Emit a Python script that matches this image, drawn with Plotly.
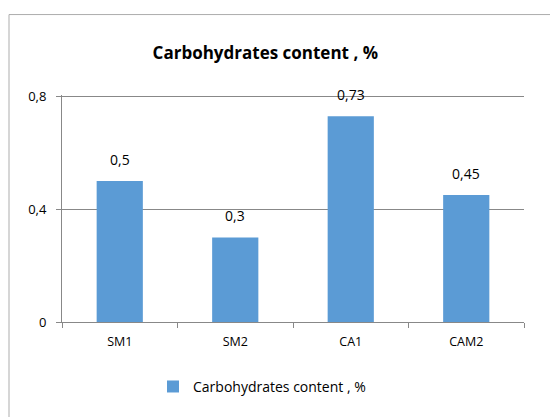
import plotly.graph_objects as go

categories = ["SM1", "SM2", "CA1", "CAM2"]
values = [0.5, 0.3, 0.73, 0.45]
series_name = "Carbohydrates content , %"
title_text = "Carbohydrates content , %"
y_ticks = [0, 0.4, 0.8]
y_tick_labels = ["0", "0,4", "0,8"]

FONT = "'Open Sans', sans-serif"
BAR = "#5B9BD5"
AXIS = "#888888"

Y_MAX = 0.805
plot_h = 226 * Y_MAX / 0.8
top_margin = 322 - plot_h

fig = go.Figure()
fig.add_trace(go.Bar(
    x=categories, y=values, name=series_name,
    marker=dict(color=BAR, line=dict(width=0)),
    showlegend=True,
))

for c, v in zip(categories, values):
    fig.add_annotation(
        x=c, y=v, text=f"{v:g}".replace(".", ","),
        showarrow=False, yanchor="bottom", yshift=10,
        font=dict(family=FONT, size=14, color="#000000"),
    )

fig.update_layout(
    width=550, height=417,
    margin=dict(l=62, r=26, t=top_margin, b=95, autoexpand=False),
    paper_bgcolor="white", plot_bgcolor="white",
    separators=", ",
    bargap=0.6,
    font=dict(family=FONT, size=12, color="#000000"),
    title=dict(text=f"<b>{title_text}</b>", x=0.44, xref="paper",
               xanchor="center", y=1 - 53 / 417, yref="container",
               yanchor="middle", font=dict(family=FONT, size=17, color="#000000")),
    legend=dict(orientation="h", x=0.197, xanchor="left", y=-65 / plot_h,
                yanchor="middle", font=dict(family=FONT, size=14, color="#000000")),
    xaxis=dict(
        type="category", showline=True, linecolor=AXIS, linewidth=1,
        ticks="outside", tickson="boundaries", ticklen=5, tickcolor=AXIS,
        showgrid=False, ticklabelstandoff=8,
        tickfont=dict(family=FONT, size=12.5, color="#000000"),
    ),
    yaxis=dict(
        range=[0, Y_MAX], tickvals=y_ticks, ticktext=y_tick_labels,
        showline=True, linecolor=AXIS, linewidth=1,
        ticks="outside", ticklen=5, tickcolor=AXIS,
        showgrid=True, gridcolor=AXIS, gridwidth=1, zeroline=False,
        ticklabelstandoff=7,
        tickfont=dict(family=FONT, size=13, color="#000000"),
    ),
    shapes=[dict(type="rect", xref="paper", yref="paper",
                 x0=-53 / 462, x1=1.3, y0=-1.0, y1=(322 - 14) / plot_h,
                 line=dict(color="#ADADAD", width=1), fillcolor="rgba(0,0,0,0)",
                 layer="below")],
)

fig.write_html("out.html", config={"displayModeBar": False},
               post_script="document.body.style.margin='0';")
